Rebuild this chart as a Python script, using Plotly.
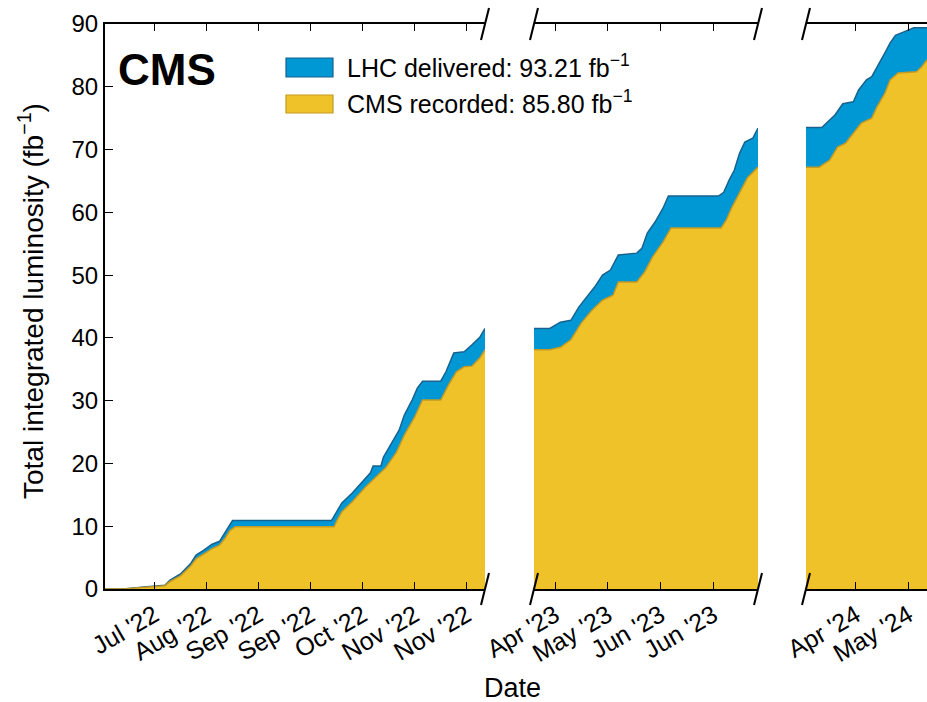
import plotly.graph_objects as go

FONT = "Liberation Sans, Arial, Helvetica, sans-serif"

# ---- 2022 run -------------------------------------------------------------
del_dates_2022 = ["2022-07-05", "2022-07-12", "2022-07-20", "2022-07-24", "2022-07-28",
                  "2022-07-30", "2022-08-03", "2022-08-07", "2022-08-09", "2022-08-12",
                  "2022-08-15", "2022-08-18", "2022-08-20", "2022-08-22", "2022-08-23",
                  "2022-09-30", "2022-10-02", "2022-10-04", "2022-10-08", "2022-10-11",
                  "2022-10-15", "2022-10-16", "2022-10-19", "2022-10-20", "2022-10-23",
                  "2022-10-26", "2022-10-28", "2022-10-31", "2022-11-02", "2022-11-04",
                  "2022-11-11", "2022-11-13", "2022-11-16", "2022-11-20", "2022-11-23",
                  "2022-11-26", "2022-11-28"]
delivered_2022 = [0.0, 0.0, 0.3, 0.4, 0.6,
                  1.4, 2.4, 4.1, 5.4, 6.2,
                  7.1, 7.6, 8.9, 10.2, 10.9,
                  10.9, 12.3, 13.7, 15.3, 16.6,
                  18.5, 19.6, 19.6, 21.0, 23.2,
                  25.3, 27.7, 30.1, 32.0, 33.1,
                  33.1, 34.6, 37.6, 37.8, 38.9,
                  40.1, 41.5]

rec_dates_2022 = ["2022-07-05", "2022-07-12", "2022-07-28", "2022-07-30", "2022-08-03",
                  "2022-08-07", "2022-08-09", "2022-08-12", "2022-08-15", "2022-08-18",
                  "2022-08-20", "2022-08-22", "2022-08-24", "2022-10-01", "2022-10-02",
                  "2022-10-04", "2022-10-08", "2022-10-13", "2022-10-17", "2022-10-21",
                  "2022-10-25", "2022-10-28", "2022-11-01", "2022-11-04", "2022-11-11",
                  "2022-11-14", "2022-11-17", "2022-11-20", "2022-11-23", "2022-11-26",
                  "2022-11-28"]
recorded_2022 = [0.0, 0.0, 0.5, 1.2, 2.1,
                 3.7, 4.8, 5.6, 6.4, 7.0,
                 8.0, 9.3, 9.9, 9.9, 10.8,
                 12.3, 13.9, 16.2, 17.8, 19.4,
                 21.8, 24.5, 27.4, 30.1, 30.1,
                 32.5, 34.6, 35.4, 35.5, 36.8,
                 38.1]

# ---- 2023 run -------------------------------------------------------------
del_dates_2023 = ["2023-04-21", "2023-04-27", "2023-05-01", "2023-05-05", "2023-05-08",
                  "2023-05-11", "2023-05-14", "2023-05-17", "2023-05-20", "2023-05-23",
                  "2023-05-30", "2023-06-01", "2023-06-03", "2023-06-06", "2023-06-09",
                  "2023-06-11", "2023-06-30", "2023-07-02", "2023-07-04", "2023-07-06",
                  "2023-07-08", "2023-07-10", "2023-07-13", "2023-07-15"]
delivered_2023 = [41.5, 41.5, 42.5, 42.8, 44.9,
                  46.5, 48.1, 50.0, 50.8, 53.2,
                  53.5, 54.3, 56.7, 58.5, 60.7,
                  62.6, 62.6, 63.2, 65.1, 66.7,
                  69.4, 71.2, 71.8, 73.4]

rec_dates_2023 = ["2023-04-21", "2023-04-27", "2023-05-01", "2023-05-05", "2023-05-09",
                  "2023-05-13", "2023-05-17", "2023-05-21", "2023-05-23", "2023-05-30",
                  "2023-06-02", "2023-06-05", "2023-06-09", "2023-06-12", "2023-07-01",
                  "2023-07-03", "2023-07-05", "2023-07-08", "2023-07-11", "2023-07-15"]
recorded_2023 = [38.1, 38.1, 38.5, 39.7, 42.4,
                 44.4, 46.0, 46.8, 48.9, 48.9,
                 50.5, 52.9, 55.3, 57.5, 57.5,
                 58.8, 60.7, 63.2, 65.5, 67.2]

# ---- 2024 run -------------------------------------------------------------
del_dates_2024 = ["2024-04-05", "2024-04-11", "2024-04-14", "2024-04-16", "2024-04-19",
                  "2024-04-23", "2024-04-25", "2024-04-28", "2024-04-30", "2024-05-03",
                  "2024-05-05", "2024-05-07", "2024-05-09", "2024-05-12", "2024-05-16",
                  "2024-05-21"]
delivered_2024 = [73.5, 73.5, 74.7, 75.5, 77.3,
                  77.6, 79.5, 81.1, 81.6, 83.8,
                  85.4, 87.0, 88.2, 88.7, 89.4,
                  89.4]

rec_dates_2024 = ["2024-04-05", "2024-04-10", "2024-04-14", "2024-04-17", "2024-04-20",
                  "2024-04-23", "2024-04-26", "2024-04-30", "2024-05-02", "2024-05-05",
                  "2024-05-07", "2024-05-10", "2024-05-17", "2024-05-19", "2024-05-21"]
recorded_2024 = [67.2, 67.2, 68.3, 70.4, 71.0,
                 72.6, 74.2, 75.0, 76.8, 79.0,
                 81.1, 82.2, 82.4, 83.2, 84.3]

# integrated totals quoted in the legend
delivered_total = 93.21
recorded_total = 85.80

# axis ranges and ticks for each year segment
ranges = [["2022-07-05", "2022-11-28"],
          ["2023-04-21", "2023-07-15"],
          ["2024-04-05", "2024-05-21"]]
tick_dates = [["2022-07-24", "2022-08-13", "2022-09-02", "2022-09-22",
               "2022-10-12", "2022-11-01", "2022-11-21"],
              ["2023-04-29", "2023-05-19", "2023-06-08", "2023-06-28"],
              ["2024-04-24", "2024-05-14"]]
y_ticks = [0, 10, 20, 30, 40, 50, 60, 70, 80, 90]

BLUE, BLUE_EDGE = "#0098d4", "#17628f"
YELLOW, YELLOW_EDGE = "#f0c22a", "#c49a22"

# figure geometry (pixels)
W, H = 927, 702
L, R, T, B = 105, 0, 24, 113
PW, PH = W - L - R, H - T - B
seg_px = [(105, 485), (534, 758), (806, 927)]


def px_x(px):
    return (px - L) / PW


def px_y(py):
    return (H - B - py) / PH


fig = go.Figure()

series = [(del_dates_2022, delivered_2022, rec_dates_2022, recorded_2022),
          (del_dates_2023, delivered_2023, rec_dates_2023, recorded_2023),
          (del_dates_2024, delivered_2024, rec_dates_2024, recorded_2024)]

for i, (dd, dv, rd, rv) in enumerate(series):
    suffix = "" if i == 0 else str(i + 1)
    fig.add_trace(go.Scatter(x=dd, y=dv, mode="lines", fill="tozeroy",
                             fillcolor=BLUE, line=dict(color=BLUE_EDGE, width=1.5),
                             xaxis="x" + suffix, yaxis="y" + suffix,
                             showlegend=False, hoverinfo="skip"))
    fig.add_trace(go.Scatter(x=rd, y=rv, mode="lines", fill="tozeroy",
                             fillcolor=YELLOW, line=dict(color=YELLOW_EDGE, width=1.5),
                             xaxis="x" + suffix, yaxis="y" + suffix,
                             showlegend=False, hoverinfo="skip"))

layout = dict(width=W, height=H, margin=dict(l=L, r=R, t=T, b=B, pad=0),
              paper_bgcolor="white", plot_bgcolor="white",
              font=dict(family=FONT, color="black"), showlegend=False)

for i, ((a, b), rng, tv) in enumerate(zip(seg_px, ranges, tick_dates)):
    suffix = "" if i == 0 else str(i + 1)
    layout["xaxis" + suffix] = dict(
        type="date", domain=[px_x(a), px_x(b)], range=rng,
        tickvals=tv, tickformat="%b '%y", tickangle=-30,
        tickfont=dict(size=25, family=FONT), ticks="inside", ticklen=7,
        tickwidth=1.2, tickcolor="black", showline=True, linecolor="black",
        linewidth=2, mirror="ticks", showgrid=False, zeroline=False,
        anchor="y" + suffix)
    ydict = dict(domain=[0, 1], range=[0, 90], showgrid=False, zeroline=False,
                 anchor="x" + suffix)
    if i == 0:
        ydict.update(tickvals=y_ticks, ticks="inside", ticklen=8, tickwidth=1.2,
                     tickcolor="black", showline=True, linecolor="black",
                     linewidth=2, tickfont=dict(size=24, family=FONT))
    else:
        ydict.update(showticklabels=False, showline=False, ticks="")
    layout["yaxis" + suffix] = ydict

fig.update_layout(**layout)

shapes = []
# diagonal break marks where the time axis is interrupted
for edge in (485, 534, 758, 806):
    for yc in (T, H - B):
        shapes.append(dict(type="line", xref="paper", yref="paper",
                           x0=px_x(edge - 4), y0=px_y(yc + 16),
                           x1=px_x(edge + 4), y1=px_y(yc - 16),
                           line=dict(color="black", width=2)))

# legend swatches
shapes.append(dict(type="rect", xref="paper", yref="paper",
                   x0=px_x(286), x1=px_x(333), y0=px_y(77), y1=px_y(58),
                   fillcolor=BLUE, line=dict(color=BLUE_EDGE, width=1.2)))
shapes.append(dict(type="rect", xref="paper", yref="paper",
                   x0=px_x(286), x1=px_x(333), y0=px_y(113), y1=px_y(95),
                   fillcolor=YELLOW, line=dict(color=YELLOW_EDGE, width=1.2)))

annotations = [
    dict(text="<b>CMS</b>", xref="paper", yref="paper", x=px_x(116), y=px_y(70),
         xanchor="left", yanchor="middle", showarrow=False,
         font=dict(size=44, family=FONT)),
    dict(text=f"LHC delivered: {delivered_total:.2f} fb<sup>\u22121</sup>",
         xref="paper", yref="paper", x=px_x(345), y=px_y(66),
         xanchor="left", yanchor="middle", showarrow=False,
         font=dict(size=25, family=FONT)),
    dict(text=f"CMS recorded: {recorded_total:.2f} fb<sup>\u22121</sup>",
         xref="paper", yref="paper", x=px_x(345), y=px_y(102),
         xanchor="left", yanchor="middle", showarrow=False,
         font=dict(size=25, family=FONT)),
    dict(text="Total integrated luminosity (fb<sup>\u22121</sup>)",
         xref="paper", yref="paper", x=px_x(31), y=px_y(301),
         xanchor="center", yanchor="middle", textangle=-90, showarrow=False,
         font=dict(size=28, family=FONT)),
    dict(text="Date", xref="paper", yref="paper", x=px_x(512), y=px_y(688),
         xanchor="center", yanchor="middle", showarrow=False,
         font=dict(size=27, family=FONT)),
]

fig.update_layout(shapes=shapes, annotations=annotations)

fig.write_html("out.html")
